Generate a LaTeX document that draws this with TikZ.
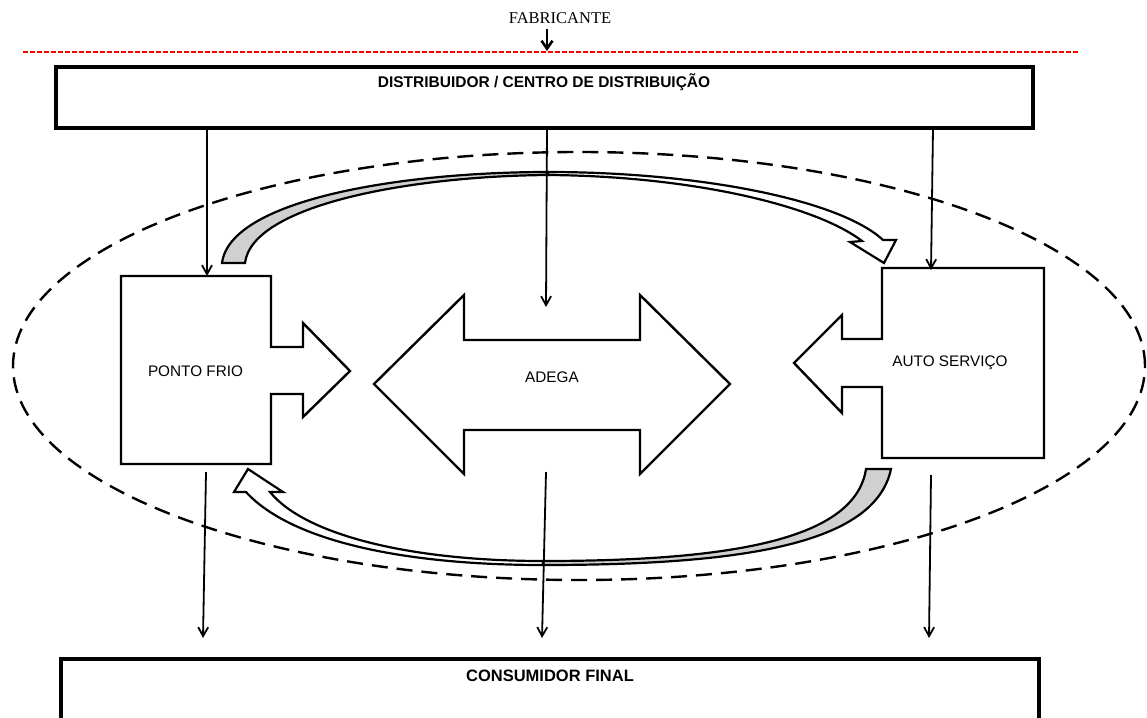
\documentclass[tikz,border=0pt]{standalone}
\usepackage{fontspec}
\setmainfont{Liberation Serif}
\newfontfamily\arialf{Liberation Sans}
\usetikzlibrary{arrows.meta,shapes.geometric}
\definecolor{tailgray}{RGB}{208,208,208}
\begin{document}
\begin{tikzpicture}[x=1pt,y=-1pt,
  shapeline/.style={draw=black, line width=2.4pt, line join=miter, fill=white},
  flowarr/.style={draw=black, line width=1.8pt, -{Straight Barb[length=9pt,width=10pt]}},
  lbl/.style={font=\arialf\fontsize{15.3}{17}\selectfont, inner sep=0pt},
  boldlbl/.style={font=\arialf\bfseries\fontsize{15.5}{17}\selectfont, inner sep=0pt},
  bigbox/.style={draw=black, line width=3.2pt, inner sep=0pt},
  oval/.style={draw=black, line width=2.4pt, dash pattern=on 16pt off 9pt},
  curvearr/.style={draw=black, line width=2.2pt, line join=miter}
]
\useasboundingbox (0,0) rectangle (1147,717);
\fill[white] (0,0) rectangle (1147,717);
\clip (0,0) rectangle (1147,717);

% manufacturer
\node[font=\fontsize{16.5}{18}\selectfont, inner sep=0pt] (fab) at (560,18.5) {FABRICANTE};
\coordinate (fabA) at (547,29);
\coordinate (fabB) at (547,51);
\draw[line width=2.6pt, -{Straight Barb[length=8pt,width=11pt]}] (fabA) -- (fabB);

\coordinate (redL) at (23,52);
\coordinate (redR) at (1078,52);
\draw[red, line width=1.4pt, dash pattern=on 4.5pt off 2.5pt] (redL) -- (redR);

% distributor box
\node[bigbox, minimum width=977pt, minimum height=61pt] (dist) at (544.5,97.5) {};
\node[boldlbl] (disttxt) at (544,82) {DISTRIBUIDOR / CENTRO DE DISTRIBUIÇÃO};

% consumer box
\node[bigbox, minimum width=978pt, minimum height=90pt] (cons) at (550,704) {};
\node[boldlbl, font=\arialf\bfseries\fontsize{16.5}{18}\selectfont] (constxt) at (550,676) {CONSUMIDOR FINAL};

% dashed oval
\node[oval, ellipse, minimum width=1132pt, minimum height=428pt, inner sep=0pt] (grp) at (579,366) {};

% curved arrow top (Ponto Frio -> Auto Servico)
\path[curvearr, fill=tailgray] (222,263) .. controls (230,200) and (400,172) .. (548,172)
   -- (548,175) .. controls (410,176) and (252,205) .. (245,263) -- cycle;
\path[curvearr, fill=white] (548,172) .. controls (700,172) and (840,200) .. (883,240)
   -- (896,240) -- (884,263) -- (850,242) -- (862,241)
   .. controls (815,205) and (690,176) .. (548,175) -- cycle;

% curved arrow bottom (Auto Servico -> Ponto Frio)
\path[curvearr, fill=tailgray] (891,469) .. controls (875,545) and (740,565) .. (543,565)
   -- (543,561) .. controls (730,561) and (855,540) .. (866,469) -- cycle;
\path[curvearr, fill=white] (543,565) .. controls (400,565) and (290,540) .. (246,492)
   -- (234,492) -- (248,469) -- (283,492) -- (270,492)
   .. controls (305,535) and (410,561) .. (543,561) -- cycle;

% Ponto Frio
\path[shapeline] (121,276) -- (271,276) -- (271,347) -- (303,347) -- (303,323) -- (350,371)
   -- (303,417) -- (303,394) -- (271,394) -- (271,464) -- (121,464) -- cycle;
\node[lbl] (pf) at (195.5,371.5) {PONTO FRIO};

% Adega
\path[shapeline] (374,384) -- (464,295) -- (464,340) -- (640,340) -- (640,295) -- (730,384)
   -- (640,474) -- (640,430) -- (464,430) -- (464,474) -- cycle;
\node[lbl] (ad) at (552,377) {ADEGA};

% Auto Servico
\path[shapeline] (882,268) -- (1044,268) -- (1044,458) -- (882,458) -- (882,387) -- (842,387)
   -- (842,413) -- (794,363) -- (842,315) -- (842,339) -- (882,339) -- cycle;
\node[lbl] (as) at (950,363) {AUTO SERVIÇO};

% flow arrows from distributor
\coordinate (d1) at (207,128);  \coordinate (pfT) at (207,276);
\coordinate (d2) at (547,128);  \coordinate (adT) at (546,307);
\coordinate (d3) at (933,128);  \coordinate (asT) at (931,270);
\draw[flowarr] (d1) -- (pfT);
\draw[flowarr] (d2) -- (adT);
\draw[flowarr] (d3) -- (asT);

% flow arrows to consumer
\coordinate (pfB) at (206,472);  \coordinate (c1) at (203,638);
\coordinate (adB) at (546,472);  \coordinate (c2) at (542,638);
\coordinate (asB) at (931,475);  \coordinate (c3) at (929,638);
\draw[flowarr] (pfB) -- (c1);
\draw[flowarr] (adB) -- (c2);
\draw[flowarr] (asB) -- (c3);
\end{tikzpicture}
\end{document}
